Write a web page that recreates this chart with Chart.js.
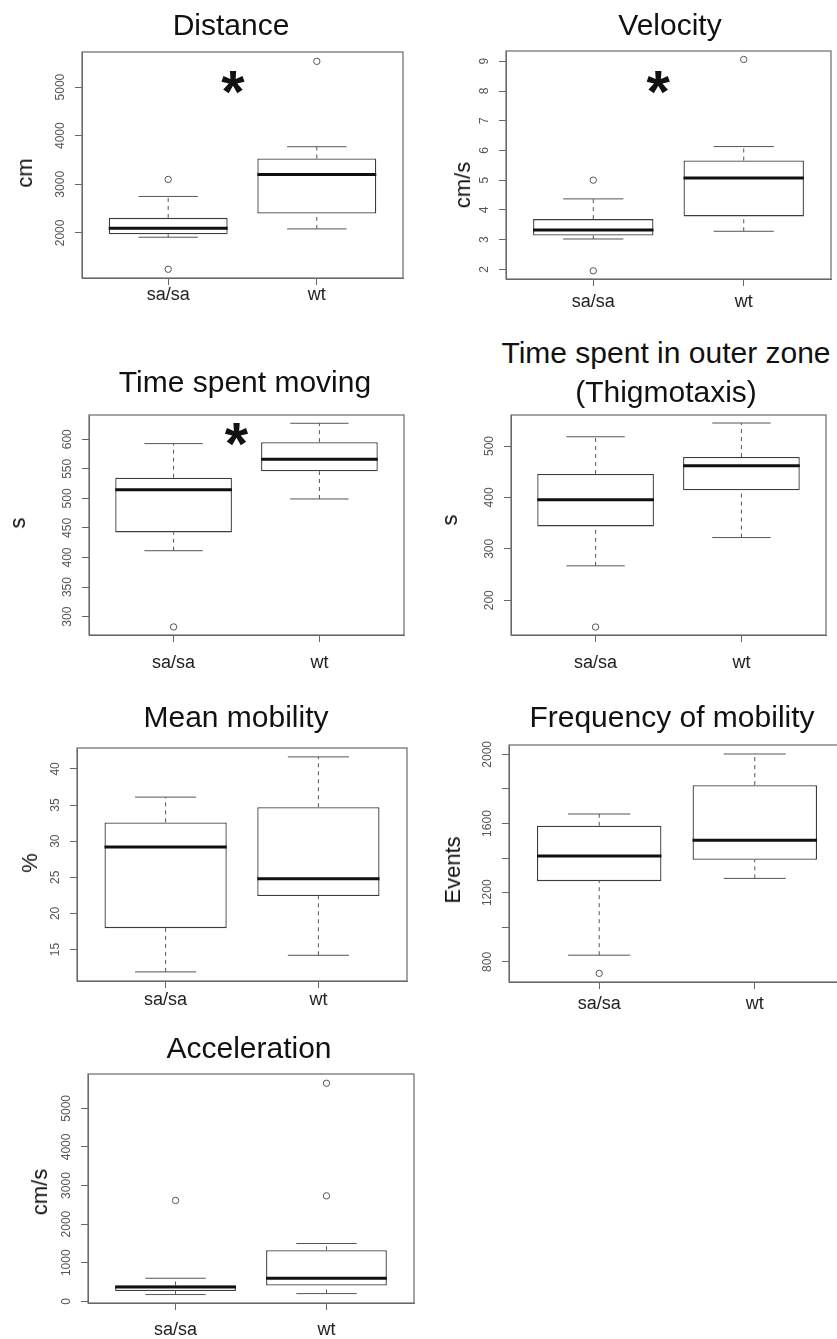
<!DOCTYPE html>
<html>
<head>
<meta charset="utf-8">
<script src="https://cdn.jsdelivr.net/npm/chart.js@4.4.1/dist/chart.umd.min.js"></script>
<style>
  html, body { margin: 0; padding: 0; background: #fff; }
  #page { position: relative; width: 837px; height: 1339px; overflow: hidden; font-family: "Liberation Sans", Arial, sans-serif; }
  #page canvas { position: absolute; }
  .title { position: absolute; font-size: 30px; color: #111; white-space: nowrap; transform: translate(-50%, -50%); line-height: 1; }
  .ylab { position: absolute; font-size: 22px; color: #111; white-space: nowrap; transform: translate(-50%, -50%) rotate(-90deg); line-height: 1; }
</style>
</head>
<body>
<div id="page"></div>
<script>
const groups = ['sa/sa', 'wt'];
const titles = ['Distance', 'Velocity', 'Time spent moving', ['Time spent in outer zone', '(Thigmotaxis)'], 'Mean mobility', 'Frequency of mobility', 'Acceleration'];
const yLabels = ['cm', 'cm/s', 's', 's', '%', 'Events', 'cm/s'];

// one pair per panel: [sa/sa, wt]
const whiskerLow = [[1911, 2082], [3.02, 3.28], [411.5, 499], [267, 322], [11.9, 14.2], [839, 1283], [175, 200]];
const quartile1 = [[1973, 2398], [3.14, 3.78], [442.5, 546], [343.7, 413.9], [17.96, 22.4], [1267, 1390], [265, 407]];
const medians = [[2097, 3200], [3.32, 5.07], [514.7, 566], [395.6, 461.7], [29.2, 24.8], [1412, 1504], [370, 597]];
const quartile3 = [[2310, 3530], [3.69, 5.66], [535, 595], [445.6, 478.6], [32.6, 34.7], [1587, 1822], [410, 1324]];
const whiskerHigh = [[2750, 3773], [4.37, 6.13], [592.6, 627], [518, 544.7], [36.1, 41.67], [1655, 2002], [597, 1497]];
const outliers = [[[1252, 3100], [5530]], [[1.95, 5.0], [9.06]], [[282.6], []], [[148], []], [[], []], [[734], []], [[2613], [2733, 5650]]];

const yMin = [1072, 1.674, 269, 132.5, 10.64, 684, -44];
const yMax = [5722, 9.346, 641, 560.3, 42.9, 2054, 5890];
const yTicks = [
  [2000, 3000, 4000, 5000],
  [2, 3, 4, 5, 6, 7, 8, 9],
  [300, 350, 400, 450, 500, 550, 600],
  [200, 300, 400, 500],
  [15, 20, 25, 30, 35, 40],
  [800, 1000, 1200, 1400, 1600, 1800, 2000],
  [0, 1000, 2000, 3000, 4000, 5000]
];
const yTickLabels = [
  ['2000', '3000', '4000', '5000'],
  ['2', '3', '4', '5', '6', '7', '8', '9'],
  ['300', '350', '400', '450', '500', '550', '600'],
  ['200', '300', '400', '500'],
  ['15', '20', '25', '30', '35', '40'],
  ['800', '', '1200', '', '1600', '', '2000'],
  ['0', '1000', '2000', '3000', '4000', '5000']
];
// significance asterisk, in data units
const starX = [1.436, 1.431, 1.431, null, null, null, null];
const starY = [5082, 8.26, 607, null, null, null, null];

// plot box on the page + text spots
const layout = [
  { L: 82, T: 52, W: 321, H: 226, tx: 231, ty: [25], lx: 25, ly: 173, gap: 17 },
  { L: 506, T: 51, W: 325, H: 228, tx: 670, ty: [25], lx: 463, ly: 185, gap: 23 },
  { L: 89, T: 415, W: 315, H: 220, tx: 245, ty: [382], lx: 18, ly: 523, gap: 28 },
  { L: 511, T: 415, W: 315, H: 220, tx: 666, ty: [353, 392], lx: 450, ly: 520, gap: 28 },
  { L: 77, T: 748, W: 330, H: 233, tx: 236, ty: [717], lx: 30, ly: 863, gap: 19 },
  { L: 509, T: 745, W: 336, H: 237, tx: 672, ty: [717], lx: 453, ly: 870, gap: 22 },
  { L: 88, T: 1074, W: 326, H: 229, tx: 249, ty: [1048], lx: 40, ly: 1192, gap: 27 }
];

const PADL = 60, PADT = 20, PADR = 12, PADB = 45;
const FONT = '"Liberation Sans", Arial, sans-serif';
const page = document.getElementById('page');

const boxFrame = {
  id: 'boxFrame',
  beforeDatasetsDraw(chart) {
    const { ctx, chartArea: a } = chart;
    ctx.save();
    ctx.strokeStyle = '#6a6a6a';
    ctx.lineWidth = 1.2;
    ctx.strokeRect(a.left, a.top, a.right - a.left, a.bottom - a.top);
    ctx.restore();
  },
  afterDraw(chart, args, opts) {
    const i = opts.panel;
    const { ctx, chartArea: a } = chart;
    const ys = chart.scales.y, xsc = chart.scales.x;
    ctx.save();
    ctx.textAlign = 'center';
    ctx.textBaseline = 'middle';
    ctx.fillStyle = '#555';
    ctx.font = '12px ' + FONT;
    yTicks[i].forEach((v, j) => {
      const lab = yTickLabels[i][j];
      if (!lab) return;
      ctx.save();
      ctx.translate(a.left - 21, ys.getPixelForValue(v));
      ctx.rotate(-Math.PI / 2);
      ctx.fillText(lab, 0, 0);
      ctx.restore();
    });
    ctx.fillStyle = '#222';
    ctx.font = '18px ' + FONT;
    groups.forEach((g, k) => ctx.fillText(g, xsc.getPixelForValue(k + 1), a.bottom + layout[i].gap));
    if (starX[i] != null) {
      ctx.fillStyle = '#111';
      ctx.font = 'bold 60px ' + FONT;
      ctx.textBaseline = 'alphabetic';
      ctx.fillText('*', xsc.getPixelForValue(starX[i]), ys.getPixelForValue(starY[i]) + 29);
    }
    ctx.restore();
  }
};

layout.forEach((p, i) => {
  const cv = document.createElement('canvas');
  cv.width = p.W + PADL + PADR;
  cv.height = p.H + PADT + PADB;
  cv.style.width = cv.width + 'px';
  cv.style.height = cv.height + 'px';
  cv.style.left = (p.L - PADL) + 'px';
  cv.style.top = (p.T - PADT) + 'px';
  page.appendChild(cv);

  const t = Array.isArray(titles[i]) ? titles[i] : [titles[i]];
  t.forEach((line, j) => {
    const d = document.createElement('div');
    d.className = 'title';
    d.textContent = line;
    d.style.left = p.tx + 'px';
    d.style.top = p.ty[j] + 'px';
    page.appendChild(d);
  });
  const yl = document.createElement('div');
  yl.className = 'ylab';
  yl.textContent = yLabels[i];
  yl.style.left = p.lx + 'px';
  yl.style.top = p.ly + 'px';
  page.appendChild(yl);

  const xs = groups.map((g, k) => k + 1);
  const boxData = xs.map((x, k) => ({ x, y: [quartile1[i][k], quartile3[i][k]] }));
  const whiskerData = [], capData = [], medianData = [];
  xs.forEach((x, k) => {
    whiskerData.push({ x, y: quartile3[i][k] }, { x, y: whiskerHigh[i][k] }, { x, y: null },
                     { x, y: whiskerLow[i][k] }, { x, y: quartile1[i][k] }, { x, y: null });
    capData.push({ x: x - 0.2, y: whiskerHigh[i][k] }, { x: x + 0.2, y: whiskerHigh[i][k] }, { x, y: null },
                 { x: x - 0.2, y: whiskerLow[i][k] }, { x: x + 0.2, y: whiskerLow[i][k] }, { x, y: null });
    medianData.push({ x: x - 0.4, y: medians[i][k] }, { x: x + 0.4, y: medians[i][k] }, { x, y: null });
  });
  const outlierData = xs.flatMap((x, k) => outliers[i][k].map(v => ({ x, y: v })));

  new Chart(cv, {
    type: 'bar',
    data: {
      datasets: [
        { type: 'bar', data: boxData, backgroundColor: '#fff', borderColor: '#3c3c3c', borderWidth: 1.3,
          borderSkipped: false, barPercentage: 0.8, categoryPercentage: 1, order: 5 },
        { type: 'line', data: whiskerData, borderColor: '#555', borderWidth: 1, borderDash: [4, 4],
          pointRadius: 0, spanGaps: false, order: 4 },
        { type: 'line', data: capData, borderColor: '#555', borderWidth: 1, pointRadius: 0, spanGaps: false, order: 3 },
        { type: 'line', data: medianData, borderColor: '#111', borderWidth: 3, pointRadius: 0, spanGaps: false, order: 1 },
        { type: 'scatter', data: outlierData, pointStyle: 'circle', pointRadius: 3.2, borderColor: '#555',
          backgroundColor: 'rgba(0,0,0,0)', borderWidth: 1, order: 0 }
      ]
    },
    options: {
      responsive: false,
      animation: false,
      devicePixelRatio: 1,
      events: [],
      layout: { padding: { left: 0, top: PADT, right: PADR, bottom: 0 } },
      plugins: { legend: { display: false }, tooltip: { enabled: false }, boxFrame: { panel: i } },
      scales: {
        x: {
          type: 'linear', min: 0.42, max: 2.58, offset: false,
          afterBuildTicks: s => { s.ticks = xs.map(v => ({ value: v })); },
          afterFit: s => { s.height = PADB; },
          ticks: { display: false },
          grid: { display: true, offset: false, drawOnChartArea: false, drawTicks: true, tickLength: 7, color: '#666', lineWidth: 1 },
          border: { display: true, color: '#666', width: 1 }
        },
        y: {
          type: 'linear', min: yMin[i], max: yMax[i],
          afterBuildTicks: s => { s.ticks = yTicks[i].map(v => ({ value: v })); },
          afterFit: s => { s.width = PADL; },
          ticks: { display: false },
          grid: { display: true, offset: false, drawOnChartArea: false, drawTicks: true, tickLength: 7, color: '#666', lineWidth: 1 },
          border: { display: true, color: '#666', width: 1 }
        }
      }
    },
    plugins: [boxFrame]
  });
});
</script>
</body>
</html>
